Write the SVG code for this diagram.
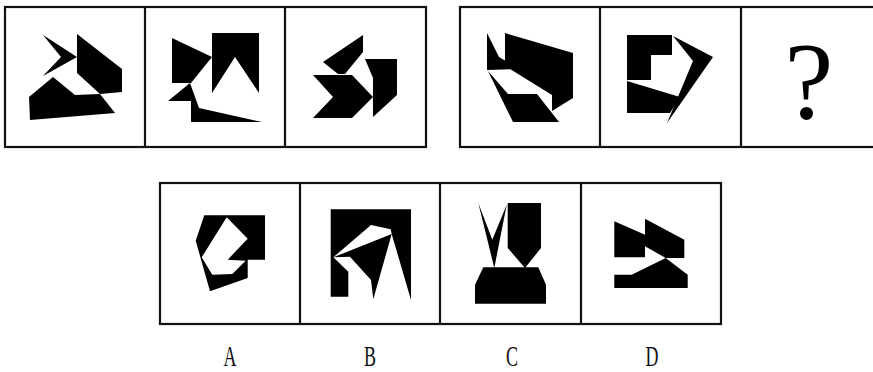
<svg xmlns="http://www.w3.org/2000/svg" width="873" height="372" viewBox="0 0 873 372">
<style>
.frame{fill:none;stroke:#111;stroke-width:2.2}
.div{stroke:#111;stroke-width:2.2}
.s{fill:#000}
.w{fill:#fff}
.lbl{font-family:"Liberation Serif",serif;font-size:29px;fill:#111;text-anchor:middle}
.q{font-family:"Liberation Serif",serif;font-size:110px;fill:#000;text-anchor:middle}
</style>
<rect width="873" height="372" fill="#fff"/>
<g id="frames">
<rect class="frame" x="5" y="7" width="421" height="140"/>
<line class="div" x1="145" y1="7" x2="145" y2="147"/>
<line class="div" x1="285" y1="7" x2="285" y2="147"/>
<rect class="frame" x="460" y="7" width="416" height="140"/>
<line class="div" x1="600" y1="7" x2="600" y2="147"/>
<line class="div" x1="741" y1="7" x2="741" y2="147"/>
<rect class="frame" x="160" y="183" width="561" height="141"/>
<line class="div" x1="300" y1="183" x2="300" y2="324"/>
<line class="div" x1="440" y1="183" x2="440" y2="324"/>
<line class="div" x1="581" y1="183" x2="581" y2="324"/>
</g>
<g id="p1">
<polygon class="s" points="43,35 77,57 43,76 61,57"/>
<polygon class="s" points="77,34 122,69 122,92 100,94 77,73"/>
<polygon class="s" points="29,97 53,77 75,95 100,94 115,113 30,120"/>
</g>
<g id="p2">
<polygon class="s" points="172,38 212,57 191,83 172,83"/>
<polygon class="s" points="212,33 259,33 259,93 235,57 212,93"/>
<polygon class="s" points="190,83 199,108 262,122 191,122 191,101 168,101"/>
</g>
<g id="p3">
<polygon class="s" points="323,62 363,35 363,52 345,74 338,74"/>
<polygon class="s" points="365,59 397,59 397,95 373,117 373,78"/>
<polygon class="s" points="313,75 352,75 373,97 352,118 313,118 333,97"/>
</g>
<g id="p4">
<polygon class="s" points="487,33 499,57 519,69 487,70"/>
<polygon class="s" points="505,33 573,53 573,98 552,111 552,95 505,66"/>
<polygon class="s" points="488,71 508,94 537,94 559,122 513,122"/>
</g>
<g id="p5">
<polygon class="s" points="627,35 672,35 672,55 651,55 651,80 627,80"/>
<polygon class="s" points="627,81 680,97 670,113 627,113"/>
<polygon class="s" points="673,36 713,57 667,123 693,61"/>
</g>
<g id="p6">
<text class="q" x="809" y="118">?</text>
</g>
<g id="optA">
<polygon class="s" points="204.3,215.3 265,215.3 265,259.7 247.7,259.7 247.7,278 210,291.3 195.7,240.7"/>
<polygon class="w" points="226.7,217.3 247.7,238.7 227.7,259.7 245.7,260.7 232.3,274 212.3,274.7 201.7,257.3"/>
</g>
<g id="optB">
<polygon class="s" points="330.7,209.3 411,209.3 411,300 391.7,234 373.3,299.3 371,280 350,256.7 333.3,257.3 348.3,271.7 348.3,296.7 330.7,296.7"/>
<polygon class="w" points="333.3,257.3 371,225 390.7,229.3 391.7,234"/>
</g>
<g id="optC">
<polygon class="s" points="478.3,203 492.3,239.7 506.7,204.7 494.3,268"/>
<polygon class="s" points="507.7,203 541,203 541,248 525,268 507.7,248"/>
<polygon class="s" points="483.3,267.3 538.3,267.3 546,284.7 546,303.7 475,303.7 475,284.7"/>
</g>
<g id="optD">
<polygon class="s" points="614.3,221.3 645,234.7 645,257.3 614.3,257.3"/>
<polygon class="s" points="645,218.7 684.3,239.7 684.3,258 665.7,258 645,246.3"/>
<polygon class="s" points="614.3,274.7 631.7,274.7 665.7,258 687.7,274.7 687.7,288 614.3,288"/>
</g>
<g id="labels">
<text class="lbl" transform="translate(230,365.5) scale(0.62,1)">A</text>
<text class="lbl" transform="translate(370,365.5) scale(0.62,1)">B</text>
<text class="lbl" transform="translate(512,365.5) scale(0.62,1)">C</text>
<text class="lbl" transform="translate(652,365.5) scale(0.62,1)">D</text>
</g>
</svg>
